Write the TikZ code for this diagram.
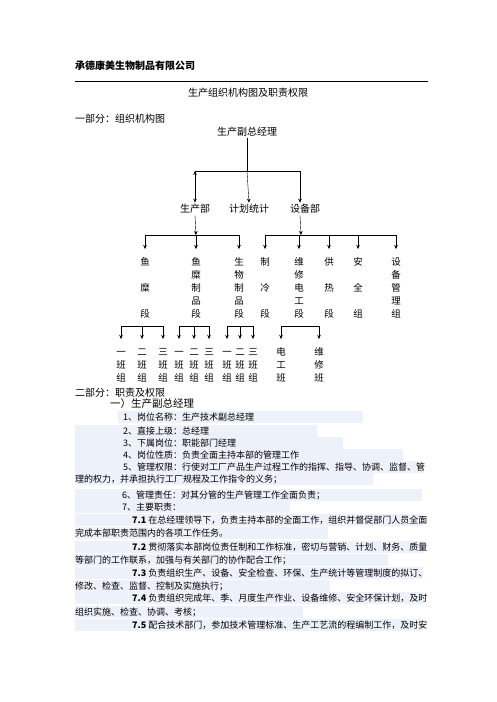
\documentclass[tikz,border=0pt]{standalone}
\usepackage{fontspec}
\setmainfont{Noto Sans CJK SC}
\usetikzlibrary{arrows.meta}
\definecolor{hlblue}{RGB}{237,241,250}
\tikzset{
  arr/.style={-{Stealth[length=4pt,width=3.5pt]}},
  lbl/.style={inner sep=1.5pt,font=\fontsize{10}{12}\selectfont},
  colbox/.style={anchor=north,text width=12pt,align=center,inner xsep=0pt,inner ysep=7pt,
    execute at begin node={\rule{0pt}{9pt}},font=\fontsize{9.5}{13}\selectfont},
  txt/.style={anchor=base west,inner sep=0pt,font=\fontsize{9}{11}\selectfont},
}
\begin{document}
\begin{tikzpicture}[x=1pt,y=-1pt]
    \useasboundingbox[fill=white] (0,0) rectangle (496,702);

    % header
    \node[anchor=west,inner sep=0pt,font=\fontsize{10}{12}\selectfont\bfseries] (firm) at (75,66) {承德康美生物制品有限公司};
    \draw[line width=0.9pt] (75,81) -- (428,81);
    \node[lbl] (title) at (248,93) {生产组织机构图及职责权限};
    \node[lbl,anchor=west,inner sep=0pt] (part1) at (75,119) {一部分：组织机构图};

    % top level
    \node[lbl] (vp) at (247,132) {生产副总经理};
    \node[lbl] (prod) at (195,209) {生产部};
    \node[lbl] (plan) at (249,209) {计划统计};
    \node[lbl] (equip) at (305,209) {设备部};
    \coordinate (bL) at (195,171);
    \coordinate (bM) at (247,171);
    \coordinate (bR) at (300,171);
    \draw (vp.south) -- (bM);
    \draw (bL) -- (bR);
    \draw[line width=1pt,{Stealth[length=4pt,width=3.5pt]}-{Stealth[length=4pt,width=3.5pt]}] (bL) -- (prod.north);
    \draw[arr] (bM) -- (plan.north);
    \draw[arr] (bR) -- (bR |- equip.north);

    % sections
    \node[colbox] (c1) at (145,249) {鱼\\[13pt]糜\\[13pt]段};
    \node[colbox] (c2) at (196,249) {鱼\\糜\\制\\品\\段};
    \node[colbox] (c3) at (239,249) {生\\物\\制\\品\\段};
    \node[colbox] (c4) at (265,249) {制\\[13pt]冷\\[13pt]段};
    \node[colbox] (c5) at (299,249) {维\\修\\电\\工\\段};
    \node[colbox] (c6) at (329,249) {供\\[13pt]热\\[13pt]段};
    \node[colbox] (c7) at (358,249) {安\\[13pt]全\\[13pt]组};
    \node[colbox] (c8) at (396,249) {设\\备\\管\\理\\组};
    \draw[arr] (prod.south) -- (196,235);
    \draw[arr] (bR |- equip.south) -- (301,235);
    \draw ([yshift=14pt]c1.north) -- ([yshift=14pt]c3.north);
    \draw ([yshift=14pt]c4.north) -- ([yshift=14pt]c8.north);
    \foreach \n in {c1,c2,c3,c4,c5,c6,c7,c8}
        \draw[arr] ([yshift=14pt]\n.north) -- (\n.north);

    % teams
    \node[colbox] (g11) at (121,339) {一\\班\\组};
    \node[colbox] (g12) at (142,339) {二\\班\\组};
    \node[colbox] (g13) at (163,339) {三\\班\\组};
    \node[colbox] (g21) at (179,339) {一\\班\\组};
    \node[colbox] (g22) at (194,339) {二\\班\\组};
    \node[colbox] (g23) at (209,339) {三\\班\\组};
    \node[colbox] (g31) at (227,339) {一\\班\\组};
    \node[colbox] (g32) at (240,339) {二\\班\\组};
    \node[colbox] (g33) at (253,339) {三\\班\\组};
    \node[colbox] (e1) at (281,339) {电\\工\\班};
    \node[colbox] (e2) at (319,339) {维\\修\\班};
    \draw ([yshift=13pt]g11.north) -- ([yshift=13pt]g13.north);
    \draw ([yshift=13pt]g21.north) -- ([yshift=13pt]g23.north);
    \draw ([yshift=13pt]g31.north) -- ([yshift=13pt]g33.north);
    \draw ([yshift=13pt]e1.north) -- ([yshift=13pt]e2.north);
    \foreach \n in {g11,g12,g13,g21,g22,g23,g31,g32,g33,e1,e2}
        \draw[arr] ([yshift=13pt]\n.north) -- (\n.north);

    % duties
    \node[lbl,anchor=west,inner sep=0pt] (part2) at (75,393) {二部分：职责及权限};
    \node[anchor=west,inner sep=0pt,font=\fontsize{10.5}{12}\selectfont] (vphead) at (110,404) {一）生产副总经理};
    \foreach \a/\b/\y in {118/363/417,75/317/431,75/343/443,75/403/455,75/423/467,75/373/479,
                          75/422/495,75/290/507,75/423/520,75/328/533,75/423/547,75/388/560,
                          75/423/573,75/330/586,75/423/598,75/303/612,75/423/625}
        \fill[hlblue] (\a,\y-6) rectangle (\b,\y+5.5);
    \node[txt] (d1) at (123,420.5) {1、岗位名称：生产技术副总经理};
    \node[txt] (d2) at (123,434.5) {2、直接上级：总经理};
    \node[txt] (d3) at (123,446.5) {3、下属岗位：职能部门经理};
    \node[txt] (d4) at (123,458.5) {4、岗位性质：负责全面主持本部的管理工作};
    \node[txt] (d5) at (123,470.5) {5、管理权限：行使对工厂产品生产过程工作的指挥、指导、协调、监督、管};
    \node[txt] (d5b) at (75,482.5) {理的权力，并承担执行工厂规程及工作指令的义务；};
    \node[txt] (d6) at (122,498.5) {6、管理责任：对其分管的生产管理工作全面负责；};
    \node[txt] (d7) at (122,510.5) {7、主要职责：};
    \node[txt] (d71) at (132,523.5) {\textbf{7.1} 在总经理领导下，负责主持本部的全面工作，组织并督促部门人员全面};
    \node[txt] (d71b) at (75,536.5) {完成本部职责范围内的各项工作任务。};
    \node[txt] (d72) at (132,550.5) {\textbf{7.2} 贯彻落实本部岗位责任制和工作标准，密切与营销、计划、财务、质量};
    \node[txt] (d72b) at (75,563.5) {等部门的工作联系，加强与有关部门的协作配合工作；};
    \node[txt] (d73) at (132,576.5) {\textbf{7.3} 负责组织生产、设备、安全检查、环保、生产统计等管理制度的拟订、};
    \node[txt] (d73b) at (75,589.5) {修改、检查、监督、控制及实施执行；};
    \node[txt] (d74) at (132,601.5) {\textbf{7.4} 负责组织完成年、季、月度生产作业、设备维修、安全环保计划，及时};
    \node[txt] (d74b) at (75,615.5) {组织实施、检查、协调、考核；};
    \node[txt] (d75) at (132,628.5) {\textbf{7.5} 配合技术部门，参加技术管理标准、生产工艺流的程编制工作，及时安};
\end{tikzpicture}
\end{document}
